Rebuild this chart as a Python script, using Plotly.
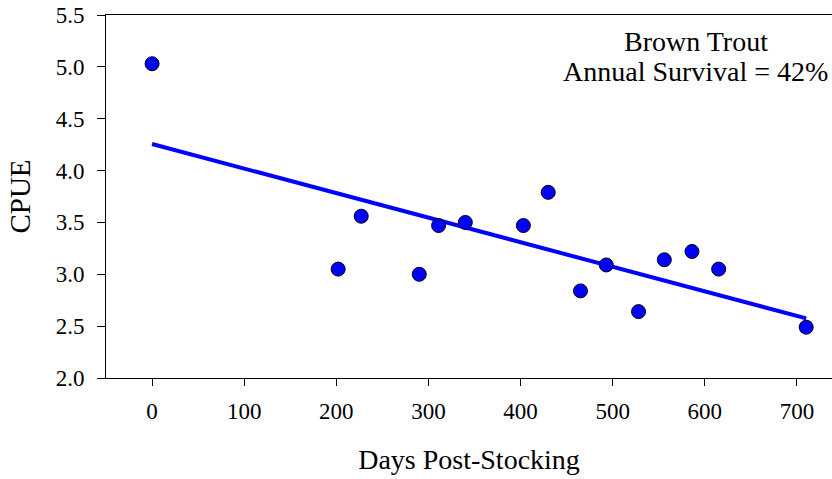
import plotly.graph_objects as go

# Data
days = [0, 202, 227, 290, 311, 340, 403, 430, 465, 493, 528, 556, 586, 615, 710]
cpue = [5.03, 3.05, 3.56, 3.00, 3.47, 3.50, 3.47, 3.79, 2.84, 3.09, 2.64, 3.14, 3.22, 3.05, 2.49]

# Regression line end points
fit_days = [0, 710]
fit_cpue = [4.256, 2.575]

x_ticks = [0, 100, 200, 300, 400, 500, 600, 700]
y_ticks = [2.0, 2.5, 3.0, 3.5, 4.0, 4.5, 5.0, 5.5]

FONT = "Liberation Serif, Times New Roman, serif"

fig = go.Figure()
fig.add_trace(go.Scatter(
    x=fit_days, y=fit_cpue, mode="lines",
    line=dict(color="#0000FF", width=4), showlegend=False, hoverinfo="skip"))
fig.add_trace(go.Scatter(
    x=days, y=cpue, mode="markers",
    marker=dict(color="#0000FF", size=14, line=dict(color="black", width=1)),
    showlegend=False))

fig.add_annotation(x=590, y=5.245, xref="x", yref="y", text="Brown Trout",
                   showarrow=False, xanchor="center", yanchor="middle",
                   font=dict(family=FONT, size=28, color="black"))
fig.add_annotation(x=590, y=4.955, xref="x", yref="y", text="Annual Survival = 42%",
                   showarrow=False, xanchor="center", yanchor="middle",
                   font=dict(family=FONT, size=28, color="black"))

fig.update_layout(
    width=832, height=479,
    margin=dict(l=106, r=0, t=15, b=101),
    paper_bgcolor="white", plot_bgcolor="white",
    font=dict(family=FONT, color="black"),
    xaxis=dict(
        range=[-50, 738], tickvals=x_ticks, ticktext=[str(v) for v in x_ticks],
        showgrid=False, zeroline=False, showline=True, linecolor="black", linewidth=1,
        mirror=True, ticks="outside", ticklen=7, tickwidth=1, tickcolor="black",
        ticklabelstandoff=5,
        tickfont=dict(family=FONT, size=23, color="black"),
        title=dict(text="Days Post-Stocking", font=dict(family=FONT, size=28, color="black"), standoff=26),
    ),
    yaxis=dict(
        range=[2.0, 5.5], tickvals=y_ticks, ticktext=[f"{v:.1f}" for v in y_ticks],
        showgrid=False, zeroline=False, showline=True, linecolor="black", linewidth=1,
        mirror=False, ticks="outside", ticklen=8, tickwidth=1, tickcolor="black",
        ticklabeloverflow="allow", ticklabelstandoff=8,
        tickfont=dict(family=FONT, size=23, color="black"),
        title=dict(text="CPUE", font=dict(family=FONT, size=29, color="black"), standoff=16),
    ),
)

fig.write_html("out.html", config={"displayModeBar": False},
               post_script="document.body.style.margin='0px';")
